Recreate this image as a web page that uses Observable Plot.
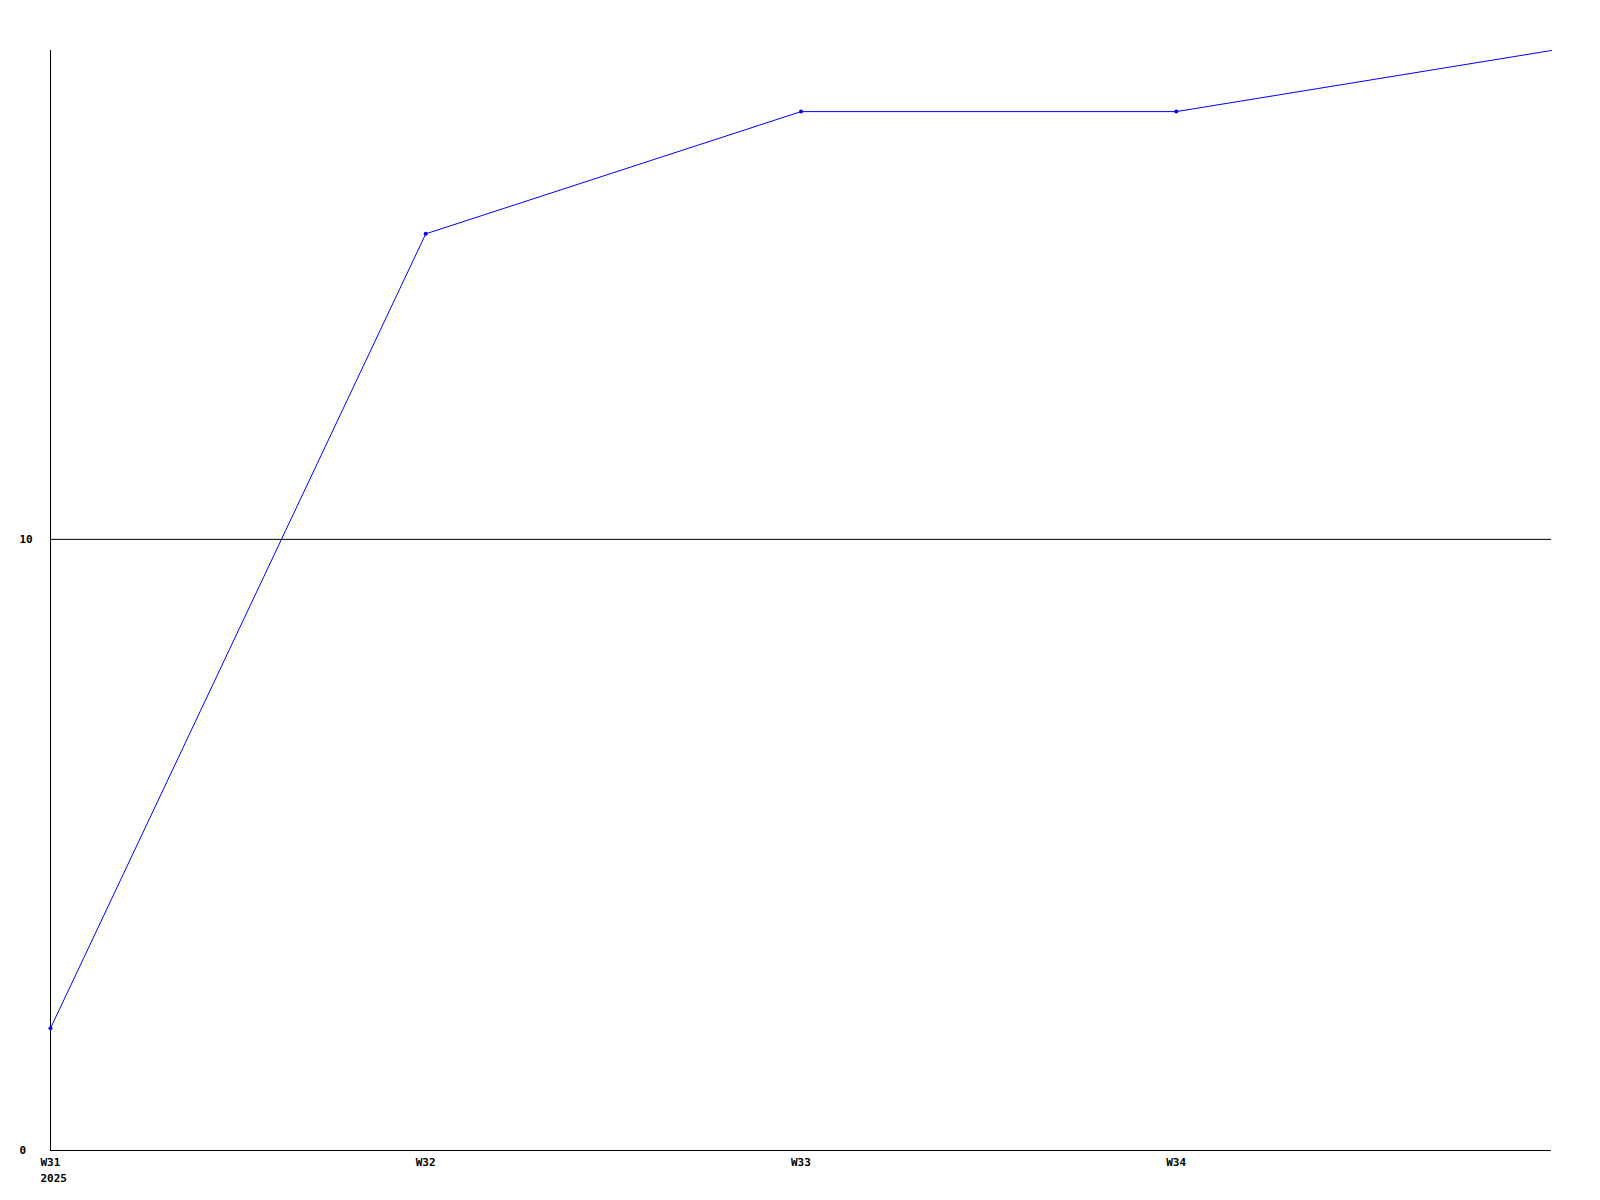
<!DOCTYPE html>
<html>
<head>
<meta charset="utf-8">
<script src="https://cdn.jsdelivr.net/npm/d3@7"></script>
<script src="https://cdn.jsdelivr.net/npm/@observablehq/plot@0.6"></script>
<style>
  html, body { margin: 0; padding: 0; background: #fff; }
  svg { display: block; }
</style>
</head>
<body>
<div id="chart"></div>
<script>
const weeks = [31, 32, 33, 34, 35];
const values = [2, 15, 17, 17, 18];
const weekLabels = ["W31\n2025", "W32", "W33", "W34"];
const yTicks = [0, 10];

const data = weeks.map((w, i) => ({week: w, value: values[i]}));
const labelData = weekLabels.map((t, i) => ({week: weeks[i], label: t}));
const font = "'DejaVu Sans Mono', monospace";

const chart = Plot.plot({
  width: 1600,
  height: 1200,
  marginLeft: 50,
  marginRight: 49,
  marginTop: 50,
  marginBottom: 50,
  style: {fontFamily: font, fontSize: "11px", fontWeight: "bold", background: "#fff"},
  x: {domain: [31, 35], axis: null},
  y: {domain: [0, 18], axis: null},
  marks: [
    Plot.ruleY([10], {stroke: "#000", strokeWidth: 1}),
    Plot.ruleY([0], {stroke: "#000", strokeWidth: 1}),
    Plot.ruleX([31], {stroke: "#000", strokeWidth: 1}),
    Plot.line(data, {x: "week", y: "value", stroke: "#0000ff", strokeWidth: 1}),
    Plot.dot(data.slice(0, 4), {x: "week", y: "value", r: 2, fill: "#0000ff", stroke: null}),
    Plot.text(yTicks, {
      y: d => d, text: d => String(d), frameAnchor: "left",
      textAnchor: "start", dx: -31, fill: "#000",
      fontFamily: font, fontSize: 11, fontWeight: "bold"
    }),
    Plot.text(labelData, {
      x: "week", text: "label", frameAnchor: "bottom",
      textAnchor: "start", lineAnchor: "top", dx: -10, dy: 5,
      lineHeight: 1.4, fill: "#000",
      fontFamily: font, fontSize: 11, fontWeight: "bold"
    })
  ]
});
document.getElementById("chart").appendChild(chart);
</script>
</body>
</html>
